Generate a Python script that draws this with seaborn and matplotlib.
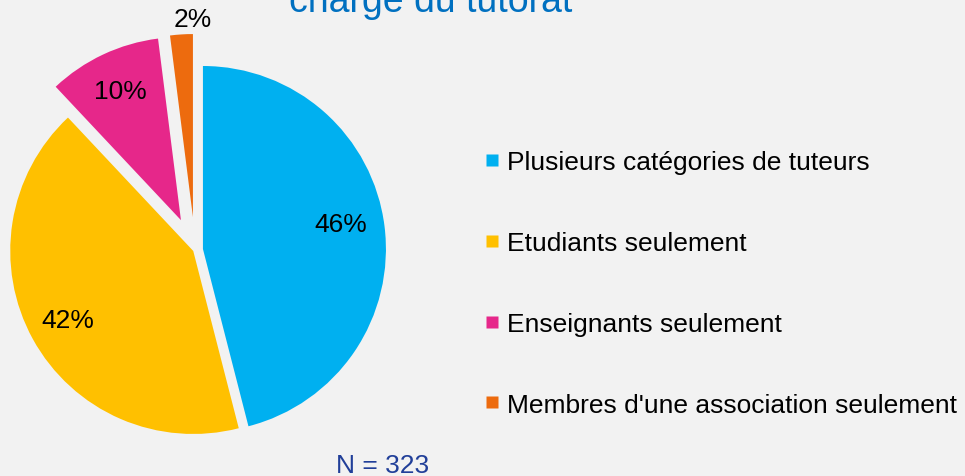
import matplotlib
matplotlib.use("Agg")
import matplotlib.pyplot as plt
import seaborn as sns
from matplotlib.lines import Line2D
import numpy as np

# Data
categories = ["Plusieurs catégories de tuteurs", "Etudiants seulement",
              "Enseignants seulement", "Membres d'une association seulement"]
shares = [46, 42, 10, 2]
colors = ["#00b0f0", "#ffc000", "#e6278a", "#ed6b0e"]
title_line = "charge du tutorat"
note = "N = 323"

sns.set_style("white", {"axes.facecolor": "#f2f2f2", "figure.facecolor": "#f2f2f2"})
plt.rcParams['font.family'] = ['Liberation Sans', 'DejaVu Sans']
palette = sns.color_palette(colors)

fig = plt.figure(figsize=(9.65, 4.77), dpi=100)
ax = fig.add_axes([0, 0, 1, 1])

# pie in pixel-like units
wedges, texts, autotexts = ax.pie(
    shares, colors=palette, startangle=90, counterclock=False,
    center=(195, 226), radius=183, explode=[8, 2, 33, 33],
    autopct="%d%%", pctdistance=0.78,
    wedgeprops=dict(edgecolor="none"),
    textprops=dict(fontsize=19, color="black"))

ax.set_xlim(0, 965)
ax.set_ylim(0, 477)
ax.set_aspect("equal")
ax.axis("off")

# nudge the big label a bit up, small slice label goes outside
x0, y0 = autotexts[0].get_position()
autotexts[0].set_position((x0 - 4, y0 + 7))
w = wedges[-1]
theta = np.deg2rad(min(w.theta1, w.theta2))
cx, cy = w.center
autotexts[-1].set_position((cx + 1.08 * w.r * np.cos(theta), cy + 1.08 * w.r * np.sin(theta)))

# title (partially cut off at top)
ax.text(431, 465, title_line, ha="center", va="baseline", fontsize=27, color="#0070c0")
ax.text(383, -1, note, ha="center", va="bottom", fontsize=19, color="#213f99")

handles = [Line2D([], [], marker="s", linestyle="none", markersize=8,
                  markerfacecolor=c, markeredgecolor="none") for c in palette]
ax.legend(handles, categories, loc="center left",
          bbox_to_anchor=(487 / 965, 192.5 / 477), bbox_transform=fig.transFigure,
          frameon=False, fontsize=19, labelcolor="black", handlelength=0.4,
          handletextpad=0.35, labelspacing=2.15, borderpad=0, borderaxespad=0)

plt.savefig("out.png", dpi=100, facecolor=fig.get_facecolor())
plt.close()
